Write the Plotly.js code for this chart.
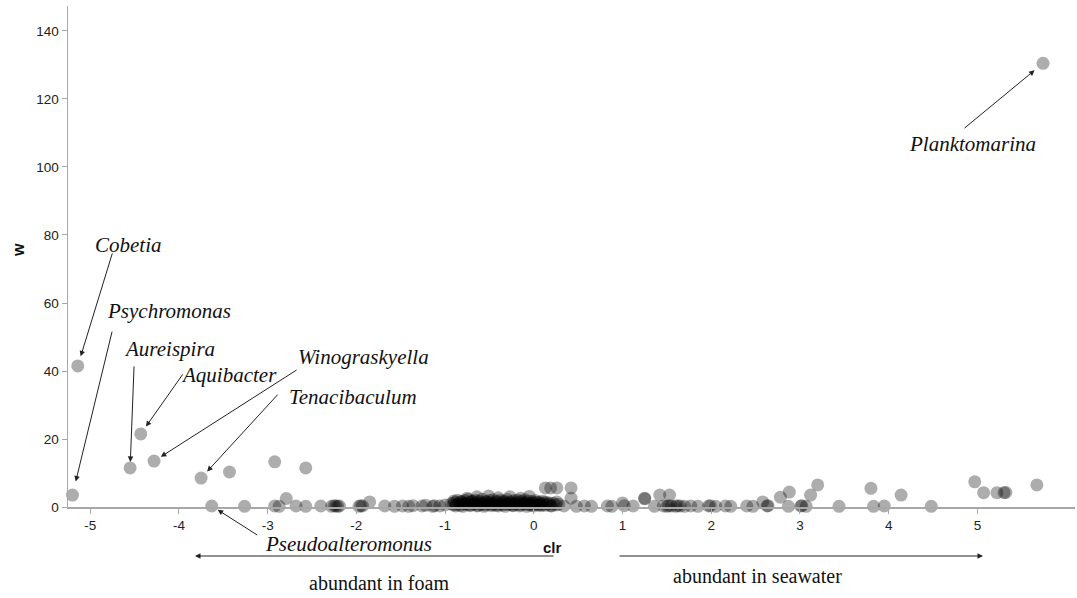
<!DOCTYPE html>
<html>
<head>
<meta charset="utf-8">
<script src="https://cdn.plot.ly/plotly-3.0.1.min.js"></script>
<style>html,body{margin:0;padding:0;background:#fff;}#chart{width:1077px;height:598px;}</style>
</head>
<body>
<div id="chart"></div>
<script>
// Labelled genera
var genusNames = ['Cobetia','Psychromonas','Aureispira','Aquibacter','Winograskyella','Tenacibaculum','Pseudoalteromonus','Planktomarina'];
var genusClr = [-5.14,-5.2,-4.55,-4.43,-4.28,-3.75,-3.63,5.74];
var genusW = [41.5,3.5,11.5,21.5,13.5,8.5,0.3,130.5];

// Other taxa, foam side
var leftClr = [-3.43,-2.92,-2.57,-3.26,-2.92,-2.87,-2.79,-2.68,-2.57,-2.40,-2.28,-2.25,-2.23,-2.21,-2.19,-1.97,-1.95,-1.93,-1.85,-1.68,-1.57,-1.48,-1.41,-1.36,-1.26,-1.22,-1.14,-1.12,-1.06,-1.0];
var leftW = [10.3,13.3,11.5,0.2,0.3,0.2,2.5,0.3,0.2,0.3,0.2,0.4,0.3,0.2,0.3,0.2,0.4,0.3,1.5,0.3,0.2,0.3,0.2,0.4,0.3,0.5,0.2,0.4,0.3,0.6];

// Dense cluster around zero
var clusterClr = [-0.93,-0.91,-0.89,-0.87,-0.85,-0.83,-0.81,-0.79,-0.77,-0.75,-0.73,-0.71,-0.69,-0.67,-0.65,-0.63,-0.61,-0.59,-0.57,-0.55,-0.53,-0.51,-0.49,-0.47,-0.45,-0.43,-0.41,-0.39,-0.37,-0.35,-0.33,-0.31,-0.29,-0.27,-0.25,-0.23,-0.21,-0.19,-0.17,-0.15,-0.13,-0.11,-0.09,-0.07,-0.05,-0.03,-0.01,0.01,0.03,0.05,0.07,0.09,0.11,0.13,0.16,0.19,0.22,0.25,0.28,
  -0.9,-0.86,-0.82,-0.78,-0.74,-0.7,-0.66,-0.62,-0.58,-0.54,-0.5,-0.46,-0.42,-0.38,-0.34,-0.3,-0.26,-0.22,-0.18,-0.14,-0.1,-0.06,-0.02,0.02,0.06,0.1,0.14,0.18,
  -0.88,-0.8,-0.72,-0.64,-0.56,-0.48,-0.4,-0.32,-0.24,-0.16,-0.08,0.0,0.08,
  -0.64,-0.51,-0.27,-0.05,-0.75,-0.4,-0.15];
var clusterW = [1.0,0.6,1.4,0.8,1.2,0.5,1.5,0.9,1.1,0.7,1.3,0.6,1.6,0.9,1.2,0.5,1.4,0.8,1.1,0.6,1.5,0.9,1.3,0.7,1.0,0.5,1.4,0.8,1.2,0.6,1.5,1.0,0.7,1.3,0.9,0.5,1.2,0.8,1.4,0.6,1.1,0.9,1.3,0.7,1.0,0.5,1.2,0.8,1.4,0.6,1.0,0.7,1.2,0.5,0.9,0.4,1.1,0.6,0.8,
  1.8,2.0,1.6,1.9,2.2,1.7,2.0,1.8,2.3,1.6,1.9,2.1,1.7,2.0,1.8,2.2,1.6,1.9,2.0,1.7,2.1,1.8,1.6,1.9,1.5,1.7,1.4,1.2,
  0.3,0.2,0.4,0.3,0.2,0.4,0.3,0.2,0.4,0.3,0.2,0.3,0.4,
  3.0,3.2,3.0,3.1,2.6,2.7,2.6];

// Other taxa, seawater side
var rightClr = [0.13,0.19,0.26,0.42,0.42,0.26,0.2,0.34,0.48,0.57,0.65,0.83,0.88,1.0,1.02,1.12,1.25,1.25,1.36,1.42,1.53,1.46,1.5,1.52,1.55,1.6,1.62,1.65,1.7,1.77,1.85,1.97,1.99,2.05,2.16,2.22,2.4,2.47,2.58,2.63,2.64,2.78,2.88,2.87,3.01,3.02,3.07,3.12,3.2,3.44,3.80,3.83,3.95,4.14,4.48,4.97,5.07,5.22,5.30,5.32,5.67];
var rightW = [5.6,5.6,5.6,5.6,2.6,1.5,0.3,0.3,0.2,0.3,0.2,0.3,0.2,1.2,0.4,0.3,2.6,2.4,0.2,3.5,3.5,0.3,0.2,0.4,0.3,0.2,0.4,0.3,0.2,0.3,0.2,0.3,0.4,0.2,0.3,0.2,0.3,0.2,1.5,0.3,0.4,2.9,4.4,0.2,0.3,0.4,0.2,3.5,6.5,0.2,5.5,0.2,0.3,3.5,0.2,7.4,4.2,4.2,4.2,4.3,6.5];

var xTickVals = [-5,-4,-3,-2,-1,0,1,2,3,4,5];
var xTickLabels = ['-5','-4','-3','-2','-1','0','1','2','3','4','5'];
var yTickVals = [0,20,40,60,80,100,120,140];

var allX = genusClr.concat(leftClr, clusterClr, rightClr);
var allY = genusW.concat(leftW, clusterW, rightW);

var W = 1077, H = 598, ML = 68, MR = 2, MT = 6, MB = 91;
var PW = W - ML - MR, PH = H - MT - MB;
function px(x){ return (x - ML) / PW; }
function py(y){ return (MT + PH - y) / PH; }

var serif = 'Liberation Serif, Times New Roman, serif';
var sans = 'Liberation Sans, Arial, Helvetica, sans-serif';

// label centres (pixels) and arrow tails (pixel offsets from point), standoff
var labelPos = [[128,245],[169,311],[169,349],[229,375],[363,357],[353,397],[348,544],[972,144]];
var arrowOff = [[35,-114,10],[40,-165,14],[4,-103,6],[43,-61,9],[144,-92,8],[78,-85,9],[47,30,7],[-80,66,11]];

var annotations = [];
for (var i = 0; i < genusNames.length; i++) {
  annotations.push({
    x: genusClr[i], y: genusW[i], xref: 'x', yref: 'y',
    ax: arrowOff[i][0], ay: arrowOff[i][1], axref: 'pixel', ayref: 'pixel',
    text: '', showarrow: true, arrowhead: 2, arrowsize: 1.1, arrowwidth: 1,
    arrowcolor: '#222', standoff: arrowOff[i][2]
  });
  annotations.push({
    x: px(labelPos[i][0]), y: py(labelPos[i][1]), xref: 'paper', yref: 'paper',
    xanchor: 'center', yanchor: 'middle', showarrow: false,
    text: '<i>' + genusNames[i] + '</i>',
    font: {family: serif, size: 21, color: '#111'}
  });
}
// direction arrows below the axis
annotations.push({x: px(195), y: py(556), xref: 'paper', yref: 'paper', ax: 360, ay: 0,
  text: '', showarrow: true, arrowhead: 2, arrowsize: 1.1, arrowwidth: 1, arrowcolor: '#222'});
annotations.push({x: px(983), y: py(556), xref: 'paper', yref: 'paper', ax: -365, ay: 0,
  text: '', showarrow: true, arrowhead: 2, arrowsize: 1.1, arrowwidth: 1, arrowcolor: '#222'});
annotations.push({x: px(379), y: py(583), xref: 'paper', yref: 'paper', showarrow: false,
  xanchor: 'center', yanchor: 'middle', text: 'abundant in foam', font: {family: serif, size: 20, color: '#111'}});
annotations.push({x: px(757), y: py(576), xref: 'paper', yref: 'paper', showarrow: false,
  xanchor: 'center', yanchor: 'middle', text: 'abundant in seawater', font: {family: serif, size: 20, color: '#111'}});
// axis titles
annotations.push({x: px(552), y: py(547), xref: 'paper', yref: 'paper', showarrow: false,
  xanchor: 'center', yanchor: 'middle', text: '<b>clr</b>', font: {family: sans, size: 15, color: '#111'}});
annotations.push({x: px(18), y: py(250), xref: 'paper', yref: 'paper', showarrow: false, textangle: -90,
  xanchor: 'center', yanchor: 'middle', text: '<b>w</b>', font: {family: sans, size: 16, color: '#111'}});

var trace = {
  x: allX, y: allY, type: 'scatter', mode: 'markers', cliponaxis: false, hoverinfo: 'x+y',
  marker: {color: '#000', opacity: 0.32, size: 13, line: {width: 0}}
};

var layout = {
  width: W, height: H,
  margin: {l: ML, r: MR, t: MT, b: MB, pad: 0},
  paper_bgcolor: '#fff', plot_bgcolor: '#fff',
  showlegend: false,
  font: {family: sans, size: 13, color: '#333'},
  xaxis: {
    range: [-5.25, 6.10], tickvals: xTickVals, ticktext: xTickLabels,
    showline: true, linecolor: '#a8a8a8', linewidth: 1.5,
    ticks: 'outside', ticklen: 5, tickcolor: '#a8a8a8', tickwidth: 1,
    showgrid: false, zeroline: false, tickfont: {size: 13.5, color: '#222'}
  },
  yaxis: {
    range: [0, 147.35], tickvals: yTickVals,
    showline: true, linecolor: '#a8a8a8', linewidth: 1.5,
    ticks: 'outside', ticklen: 5, tickcolor: '#a8a8a8', tickwidth: 1,
    showgrid: false, zeroline: false, tickfont: {size: 13.5, color: '#222'}
  },
  annotations: annotations
};

Plotly.newPlot('chart', [trace], layout, {displayModeBar: false, staticPlot: true});
</script>
</body>
</html>
